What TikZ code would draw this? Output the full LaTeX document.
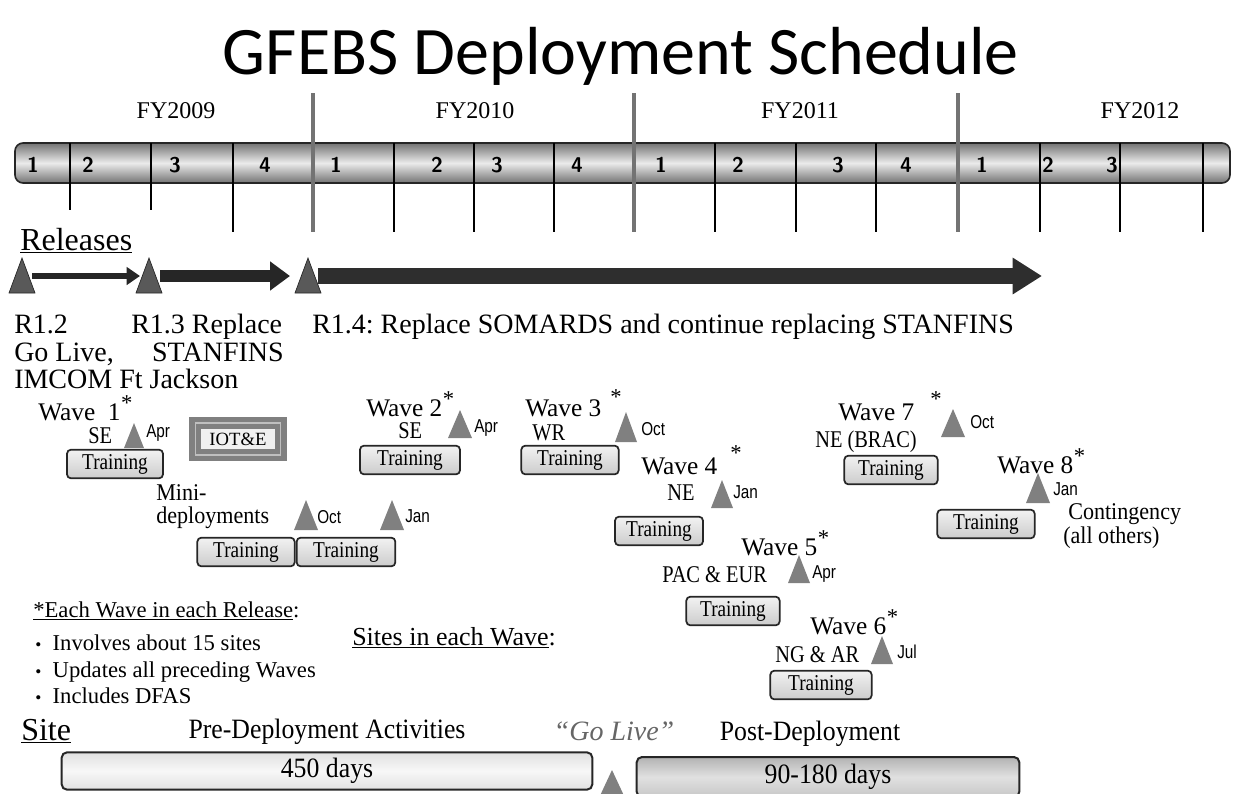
\documentclass[tikz,border=0pt]{standalone}
\usepackage{fontspec}
\setmainfont{Liberation Serif}
\newfontfamily\titlefont{Carlito}
\newfontfamily\nsans[FakeStretch=0.82]{Liberation Sans}
\newfontfamily\nserif[FakeStretch=0.85]{Liberation Serif}
\newfontfamily\mserif[FakeStretch=0.92]{Liberation Serif}
\usetikzlibrary{arrows.meta}
\frenchspacing
\newcommand\fs[1]{\fontsize{#1}{#1}\selectfont}
\newcommand\tri[5]{\path[#5] ({#1-#3},#2) -- (#1,{#2-#4}) -- ({#1+#3},#2) -- cycle;}
\tikzset{
  qline/.style={black, line width=0.8pt},
  yline/.style={black!55, line width=2.4pt},
  fylab/.style={anchor=base, font=\fs{18}},
  qnum/.style={anchor=base, font=\sffamily\bfseries\fs{16}},
  lab/.style={anchor=base west, inner sep=0pt, font=\fs{21}},
  wlab/.style={anchor=base west, inner sep=0pt, font=\fs{19}},
  region/.style={anchor=base west, inner sep=0pt, font=\nserif\fs{18}},
  mon/.style={anchor=base west, inner sep=0pt, font=\nsans\fs{14}},
  star/.style={anchor=base west, inner sep=0pt, font=\fs{17}},
  reltri/.style={fill=black!65, draw=black!85, line width=0.5pt},
  wavetri/.style={fill=black!50},
  trainbox/.style={draw=black!85, line width=1.3pt, rounded corners=3pt, top color=black!5, bottom color=black!20, minimum height=21.5pt, inner sep=0pt, font=\nserif\fs{17}},
  bullet/.style={anchor=base west, inner sep=0pt, font=\fs{17}},
  bigbox/.style={draw=black!85, line width=1.5pt, rounded corners=4pt, inner sep=0pt, font=\mserif\fs{21}}
}
\begin{document}
\begin{tikzpicture}[x=0.75pt,y=-0.75pt]
\useasboundingbox (0,0) rectangle (1235,793);
% title
\node[anchor=base, font=\titlefont\fs{51}] (title) at (621,74) {GFEBS Deployment Schedule};
% FY labels
\node[fylab] (fy9) at (176,118) {FY2009};
\node[fylab] (fy10) at (475,118) {FY2010};
\node[fylab] (fy11) at (800,118) {FY2011};
\node[fylab] (fy12) at (1140,118) {FY2012};
% bar
\path[draw=black!85, line width=1.2pt, rounded corners=6pt, top color=black!55, bottom color=black!55, middle color=black!8] (15,143) rectangle (1230,183);
\foreach \x in {70,151} \draw[qline] (\x,143) -- (\x,210);
\foreach \x in {233,394,474,554,715,796,876,1040,1120,1203} \draw[qline] (\x,143) -- (\x,232);
\foreach \x in {313,634,958} \draw[yline] (\x,93) -- (\x,232);
\foreach \x/\n [count=\i] in {33/1,88/2,175/3,265/4,336/1,437/2,497/3,577/4,661/1,738/2,838/3,906/4,982/1,1048/2,1112/3}
  \node[qnum] (q\i) at (\x,172) {\n};
% releases
\node[anchor=base west, inner sep=0pt, font=\fs{24}] (rel) at (20,250) {\underline{Releases}};
\tri{22}{293}{13}{35}{reltri}
\tri{149}{293}{13}{35}{reltri}
\tri{308}{293}{13}{35}{reltri}
\coordinate (r12) at (32,276);
\coordinate (r13a) at (140,276);
\coordinate (r13) at (160,276);
\coordinate (r14a) at (290,276);
\coordinate (r14) at (318,276);
\coordinate (r15) at (1042,276);
\draw[black!85, line width=4.5pt, -{Triangle[length=10pt,width=13pt]}] (r12) -- (r13a);
\draw[black!85, line width=9pt, -{Triangle[length=15pt,width=21pt]}] (r13) -- (r14a);
\draw[black!82, line width=12pt, -{Triangle[length=22pt,width=26pt]}] (r14) -- (r15);
\node[lab] (r12t) at (14,333) {R1.2};
\node[lab] (r12b) at (14,361) {Go Live,};
\node[lab] (r12c) at (14,388) {IMCOM Ft Jackson};
\node[lab] (r13t) at (131,333) {R1.3 Replace};
\node[lab, anchor=base east] (r13b) at (284,361) {STANFINS};
\node[lab] (r14t) at (312,333) {R1.4: Replace SOMARDS and continue replacing STANFINS};
% wave 1
\node[wlab] (w1) at (38,420) {Wave\ \ 1};
\node[star] (w1s) at (w1.base east) {\raisebox{7pt}{*}};
\node[region] (w1r) at (88,443) {SE};
\tri{134}{448}{10}{25}{wavetri}
\node[mon] (w1m) at (146,437) {Apr};
\node[trainbox, minimum width=72pt] (w1t) at (115,464) {Training};
\node[draw=black!50, line width=4pt, double=black!25, double distance=1.2pt, fill=black!6, minimum width=64pt, minimum height=24pt, font=\fs{14}] (iot) at (238,439) {IOT\&E};
% mini deployments
\node[region, font=\mserif\fs{18}] (mini1) at (156,500) {Mini-};
\node[region, font=\mserif\fs{18}] (mini2) at (156,523) {deployments};
\tri{306}{530}{12}{30}{wavetri}
\node[mon] (m1) at (317,523) {Oct};
\tri{392}{530}{12}{30}{wavetri}
\node[mon] (m2) at (405,522) {Jan};
\node[trainbox, minimum width=73pt] (mt1) at (246,552) {Training};
\node[trainbox, minimum width=74pt] (mt2) at (346,552) {Training};
% wave 2
\node[wlab] (w2) at (366,416) {Wave 2};
\node[star] (w2s) at (w2.base east) {\raisebox{7pt}{*}};
\node[region] (w2r) at (398,438) {SE};
\tri{460}{438}{12}{28}{wavetri}
\node[mon] (w2m) at (474,432) {Apr};
\node[trainbox, minimum width=75pt] (w2t) at (410,460) {Training};
% wave 3
\node[wlab] (w3) at (525,416) {Wave 3};
\node[star] (w3s) at (610,404) {*};
\node[region] (w3r) at (532,440) {WR};
\tri{626}{442}{11}{30}{wavetri}
\node[mon] (w3m) at (641,435) {Oct};
\node[trainbox, minimum width=73pt] (w3t) at (570,460) {Training};
% wave 4
\node[wlab] (w4) at (641,474) {Wave 4};
\node[star] (w4s) at (730,460) {*};
\node[region] (w4r) at (667,500) {NE};
\tri{722}{508}{11}{28}{wavetri}
\node[mon] (w4m) at (733,498) {Jan};
\node[trainbox, minimum width=66pt] (w4t) at (659,531) {Training};
% wave 5
\node[wlab] (w5) at (741,555) {Wave 5};
\node[star] (w5s) at (w5.base east) {\raisebox{7pt}{*}};
\node[region] (w5r) at (662,582) {PAC \& EUR};
\tri{799}{583}{11}{28}{wavetri}
\node[mon] (w5m) at (812,578) {Apr};
\node[trainbox, minimum width=70pt] (w5t) at (733,611) {Training};
% wave 6
\node[wlab] (w6) at (810,634) {Wave 6};
\node[star] (w6s) at (w6.base east) {\raisebox{7pt}{*}};
\node[region] (w6r) at (775,662) {NG \& AR};
\tri{882}{664}{11}{28}{wavetri}
\node[mon] (w6m) at (897,658) {Jul};
\node[trainbox, minimum width=76pt] (w6t) at (821,685) {Training};
% wave 7
\node[wlab] (w7) at (838,420) {Wave 7};
\node[star] (w7s) at (930,406) {*};
\node[region] (w7r) at (815,447) {NE (BRAC)};
\tri{953}{437}{12}{28}{wavetri}
\node[mon] (w7m) at (970,428) {Oct};
\node[trainbox, minimum width=70pt] (w7t) at (891,470) {Training};
% wave 8
\node[wlab] (w8) at (997,473) {Wave 8};
\node[star] (w8s) at (w8.base east) {\raisebox{7pt}{*}};
\tri{1038}{503}{12}{30}{wavetri}
\node[mon] (w8m) at (1053,495) {Jan};
\node[trainbox, minimum width=73pt] (w8t) at (986,524) {Training};
\node[region, font=\mserif\fs{18}] (cont1) at (1068,519) {Contingency};
\node[region, font=\mserif\fs{18}] (cont2) at (1063,543) {(all others)};
% notes
\node[bullet] (note) at (33,617) {\underline{*Each Wave in each Release}:};
\node[bullet] (b1) at (35,650) {{\fs{13}\textbullet}\ \ Involves about 15 sites};
\node[bullet] (b2) at (35,677) {{\fs{13}\textbullet}\ \ Updates all preceding Waves};
\node[bullet] (b3) at (35,703) {{\fs{13}\textbullet}\ \ Includes DFAS};
\node[anchor=base west, inner sep=0pt, font=\fs{19.5}] (sites) at (352,645) {\underline{Sites in each Wave}:};
% site
\node[anchor=base west, inner sep=0pt, font=\fs{24}] (site) at (21,740) {\underline{Site}};
\node[anchor=base, inner sep=0pt, font=\mserif\fs{21}] (pre) at (327,738) {Pre-Deployment Activities};
\node[anchor=base, inner sep=0pt, font=\itshape\fs{21}, text=black!60] (golive) at (614,740) {``Go Live''};
\node[anchor=base, inner sep=0pt, font=\mserif\fs{21}] (post) at (810,740) {Post-Deployment};
\node[bigbox, minimum width=398pt, minimum height=28pt, top color=black!12, bottom color=black!12, middle color=black!3] (pbox) at (327,771) {450 days};
\node[bigbox, minimum width=287pt, minimum height=30pt, top color=black!30, bottom color=black!22, middle color=black!12] (qbox) at (828,777) {90-180 days};
\tri{612}{800}{14}{30}{wavetri}
\end{tikzpicture}
\end{document}
